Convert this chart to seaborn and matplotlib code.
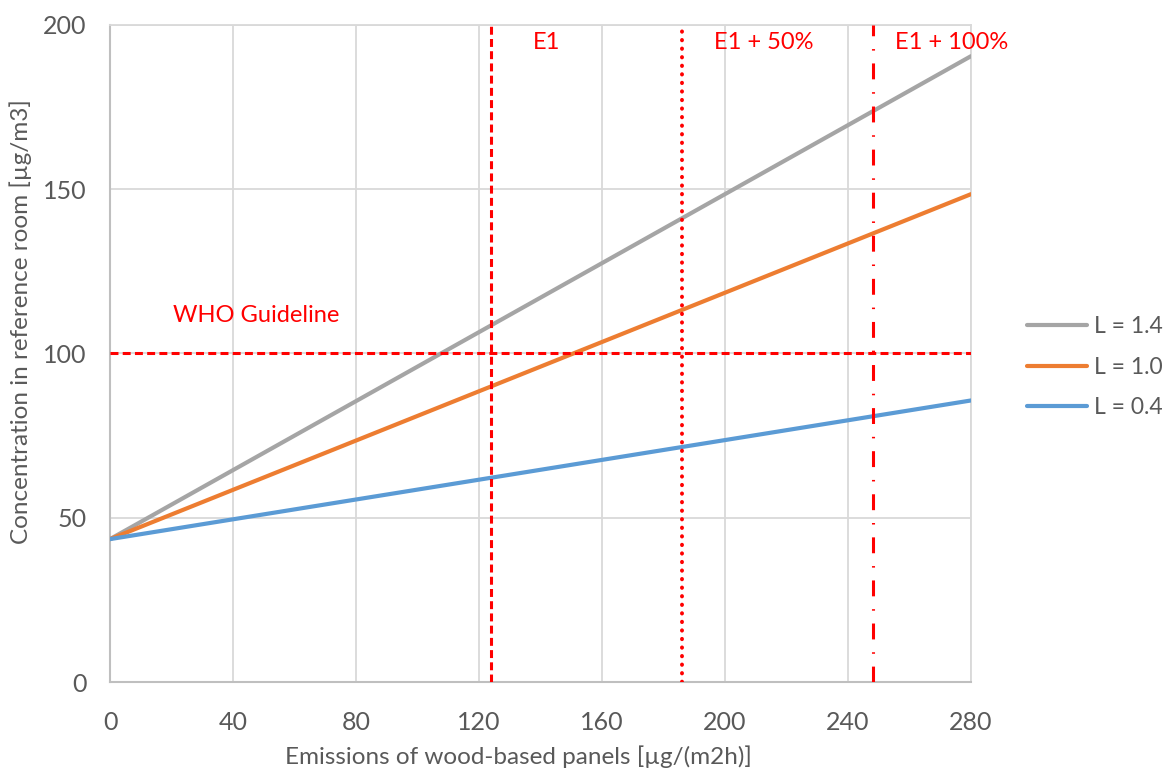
import matplotlib
matplotlib.use("Agg")
import matplotlib.pyplot as plt
import seaborn as sns
import pandas as pd

# Emission rate of wood-based panels [µg/(m2h)]
emissions = [0, 280]
# Resulting concentration in the reference room for each loading factor
conc_l14 = [43.5, 190.5]
conc_l10 = [43.5, 148.5]
conc_l04 = [43.5, 85.7]
series_names = ["L = 1.4", "L = 1.0", "L = 0.4"]
series_colors = ["#A5A5A5", "#ED7D31", "#5B9BD5"]

# Reference limits
who_guideline = 100
e1_limit = 124
e1_plus50 = 186
e1_plus100 = 248

x_ticks = [0, 40, 80, 120, 160, 200, 240, 280]
y_ticks = [0, 50, 100, 150, 200]

df = pd.DataFrame({
    "emission": emissions * 3,
    "conc": conc_l14 + conc_l10 + conc_l04,
    "series": [series_names[0]] * 2 + [series_names[1]] * 2 + [series_names[2]] * 2,
})

sns.set_style("white")
plt.rcParams["font.family"] = ["Lato", "DejaVu Sans"]

fig = plt.figure(figsize=(11.68, 7.73), dpi=100)
ax = fig.add_axes([0.0942, 0.1177, 0.7371, 0.85])

grid_c = "#D9D9D9"
for xv in x_ticks[1:]:
    ax.axvline(xv, color=grid_c, lw=1.3, zorder=0)
for yv in y_ticks[1:]:
    ax.axhline(yv, color=grid_c, lw=1.3, zorder=0)

sns.lineplot(data=df, x="emission", y="conc", hue="series", hue_order=series_names,
             palette=series_colors, linewidth=3, ax=ax, legend=False, zorder=3)

red = "#FF0000"
ax.axhline(who_guideline, color=red, lw=2.2, ls=(0, (2.6, 1.4)), zorder=4)
ax.axvline(e1_limit, color=red, lw=2.2, ls=(0, (2.6, 1.4)), zorder=4)
ax.axvline(e1_plus50, color=red, lw=2.8, ls=(0, (0.1, 2.1)), zorder=4,
           dash_capstyle="round")
ax.axvline(e1_plus100, color=red, lw=2.2, ls=(0, (5.2, 4.2, 0.5, 4.2)), zorder=4)

label_size = 17
ax.text(47.5, 111.6, "WHO Guideline", color=red, fontsize=label_size, ha="center", va="center")
ax.text(142, 194.8, "E1", color=red, fontsize=label_size, ha="center", va="center")
ax.text(212.7, 194.8, "E1 + 50%", color=red, fontsize=label_size, ha="center", va="center")
ax.text(273.8, 194.8, "E1 + 100%", color=red, fontsize=label_size, ha="center", va="center",
        clip_on=False)

ax.set_xlim(0, 280)
ax.set_ylim(0, 200)
ax.set_xticks(x_ticks)
ax.set_yticks(y_ticks)
ax.tick_params(axis="both", labelsize=18, colors="#595959", length=0)
ax.tick_params(axis="x", pad=21)
ax.tick_params(axis="y", pad=17)

for side in ["left", "bottom"]:
    ax.spines[side].set_color("#BFBFBF")
    ax.spines[side].set_linewidth(1.5)
for side in ["top", "right"]:
    ax.spines[side].set_color(grid_c)
    ax.spines[side].set_linewidth(1.3)

ax.set_xlabel("Emissions of wood-based panels [µg/(m2h)]", fontsize=17.5, color="#595959")
ax.set_ylabel("Concentration in reference room [µg/m3]", fontsize=17.5, color="#595959")
ax.xaxis.set_label_coords(0.4745, -0.0957)
ax.yaxis.set_label_coords(-0.0906, 0.549)

handles = [plt.Line2D([], [], color=c, lw=3, solid_capstyle="round") for c in series_colors]
fig.legend(handles, series_names, loc="center left", bbox_to_anchor=(0.862, 0.525),
           frameon=False, fontsize=16.5, labelcolor="#595959", handlelength=2.6,
           handletextpad=0.3, labelspacing=0.85)

fig.savefig("out.png", dpi=100, facecolor="white")
